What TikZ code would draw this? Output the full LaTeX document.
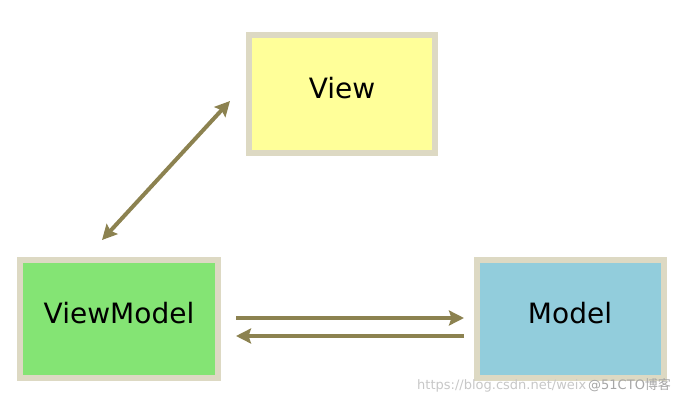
\documentclass[tikz,border=0pt]{standalone}
\usepackage{fontspec}
\setmainfont{DejaVu Sans}
\newfontfamily\cjkfont{Noto Sans CJK SC}
\usetikzlibrary{arrows.meta}
\definecolor{viewyellow}{RGB}{255,255,153}
\definecolor{vmgreen}{RGB}{132,228,116}
\definecolor{modelblue}{RGB}{146,205,220}
\definecolor{boxedge}{RGB}{221,217,195}
\definecolor{olive}{RGB}{140,130,80}
\tikzset{part/.style={draw=boxedge, line width=6pt, minimum height=118pt, text height=20pt, text depth=11pt, font=\fontsize{28}{32}\selectfont}}
\tikzset{tip/.style={Stealth[length=15pt, width=15pt, inset=2.5pt]}}
\tikzset{link/.style={olive, line width=4pt, arrows={-Stealth[length=15pt, width=15pt, inset=2.5pt]}}}
\tikzset{mark text/.style={text=black!22, font=\fontsize{13}{15}\selectfont, anchor=base west, inner sep=0pt}}

\begin{document}
\begin{tikzpicture}[x=1pt, y=-1pt]
            \useasboundingbox (0,0) rectangle (697,402);
            \node[part, fill=viewyellow, minimum width=186pt] (v) at (342,94) {View};
            \node[part, fill=vmgreen, minimum width=198pt] (vm) at (119,319) {ViewModel};
            \node[part, fill=modelblue, minimum width=187pt] (m) at (570,319) {Model};
            \draw[link, arrows={Stealth[length=15pt, width=15pt, inset=2.5pt]-Stealth[length=15pt, width=15pt, inset=2.5pt]}] ([shift={(-17pt,17pt)}]vm.north) -- ([shift={(-16pt,-7pt)}]v.west);
            \draw[link, shorten <=15pt, shorten >=9.5pt] ([yshift=1pt]vm.east) -- ([yshift=1pt]m.west);
            \draw[link, shorten <=9.5pt, shorten >=15pt] ([yshift=-17pt]m.west) -- ([yshift=-17pt]vm.east);
            \node[mark text] (url) at (417,389) {https://blog.csdn.net/weix};
            \node[mark text, text=black!35] (cto) at (588,389) {@51CTO{\cjkfont 博客}};
        \end{tikzpicture}
\end{document}
